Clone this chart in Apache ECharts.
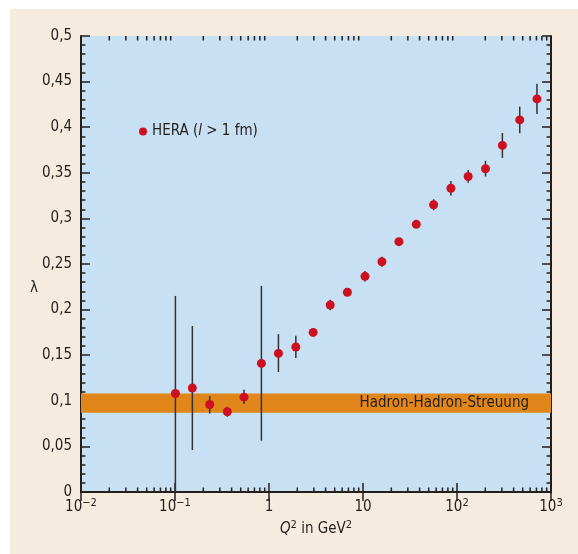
<!DOCTYPE html>
<html>
<head>
<meta charset="utf-8">
<script src="https://cdn.jsdelivr.net/npm/echarts@6/dist/echarts.min.js"></script>
<style>
html,body{margin:0;padding:0;background:#fff;}
#c{width:578px;height:554px;background:#f5ecdf;box-shadow:inset 10px 9px 0 0 #fff;}
</style>
</head>
<body>
<div id="c"></div>
<script>
// ---- data ----
const q2 = [0.101, 0.153, 0.234, 0.36, 0.542, 0.83, 1.26, 1.93, 2.95, 4.48, 6.82, 10.5, 15.9, 24.1, 36.9, 56.4, 86.1, 131.5, 201, 304, 465, 709];
const lambda = [0.108, 0.114, 0.096, 0.088, 0.104, 0.141, 0.152, 0.159, 0.175, 0.205, 0.219, 0.2365, 0.2525, 0.2745, 0.2935, 0.315, 0.333, 0.346, 0.3545, 0.380, 0.408, 0.431];
const errLow = [0.0, 0.046, 0.086, 0.0826, 0.0965, 0.0563, 0.1316, 0.147, 0.171, 0.1992, 0.215, 0.2308, 0.247, 0.2705, 0.2895, 0.309, 0.325, 0.339, 0.3459, 0.3663, 0.3934, 0.4144];
const errHigh = [0.215, 0.182, 0.105, 0.0935, 0.112, 0.226, 0.173, 0.1714, 0.179, 0.2108, 0.223, 0.2422, 0.258, 0.2785, 0.2975, 0.321, 0.341, 0.353, 0.3631, 0.3937, 0.4226, 0.4476];
const bandLow = 0.087, bandHigh = 0.108;
const bandLabel = 'Hadron-Hadron-Streuung';
const xTickExps = [-2, -1, 0, 1, 2, 3];
const yTickLabels = ['0', '0,05', '0,1', '0,15', '0,2', '0,25', '0,3', '0,35', '0,4', '0,45', '0,5'];

const FONT = '"DejaVu Sans Condensed", "Liberation Sans Narrow", "Liberation Sans", sans-serif';
const INK = '#231f1c';
const FS = 15;

// minor log tick positions (2..9 per decade)
const minorLog = [];
for (let i = 0; i < xTickExps.length - 1; i++) {
  for (let k = 2; k <= 9; k++) minorLog.push([k * Math.pow(10, xTickExps[i]), 0]);
}

function expLabel(v) {
  const e = Math.round(Math.log10(v));
  if (e === 0) return '{b|1}';
  if (e === 1) return '{b|10}';
  return '{b|10}{s|' + (e < 0 ? '\u2212' + (-e) : e) + '}';
}

const tickStyle = {color: INK, width: 1.5};
const axisLineStyle = {color: INK, width: 2};

const chart = echarts.init(document.getElementById('c'), null, {renderer: 'canvas'});
chart.setOption({
  backgroundColor: 'transparent',
  animation: false,
  grid: {left: 81, right: 27, top: 36, bottom: 62, show: true, backgroundColor: '#c8e0f3', borderWidth: 0},
  legend: {
    data: [{name: 'HERA', icon: 'circle'}],
    left: 134, top: 119, itemWidth: 8, itemHeight: 8,
    formatter: () => '{n|HERA (}{i|l}{n| > 1 fm)}',
    textStyle: {
      rich: {
        n: {fontFamily: FONT, fontSize: FS, color: INK},
        i: {fontFamily: FONT, fontSize: FS, color: INK, fontStyle: 'italic'}
      }
    }
  },
  graphic: [{
    type: 'text', left: 30, top: 281,
    style: {text: '\u03bb', fontFamily: FONT, fontSize: FS, fill: INK}
  }],
  xAxis: [{
    type: 'log', logBase: 10, min: 0.01, max: 1000, position: 'bottom',
    axisLine: {show: true, lineStyle: axisLineStyle},
    axisTick: {show: true, inside: true, length: 9, lineStyle: tickStyle},
    splitLine: {show: false},
    axisLabel: {
      margin: 6, formatter: expLabel,
      rich: {
        b: {fontFamily: FONT, fontSize: FS, color: INK, lineHeight: 19},
        s: {fontFamily: FONT, fontSize: 11, color: INK, lineHeight: 11, verticalAlign: 'top'}
      }
    },
    name: '{q|Q}{s|2}{n| in GeV}{s|2}',
    nameLocation: 'middle', nameGap: 28,
    nameTextStyle: {
      rich: {
        q: {fontFamily: FONT, fontSize: FS, color: INK, fontStyle: 'italic', lineHeight: 19},
        n: {fontFamily: FONT, fontSize: FS, color: INK, lineHeight: 19},
        s: {fontFamily: FONT, fontSize: 11, color: INK, lineHeight: 11, verticalAlign: 'top'}
      }
    }
  }, {
    type: 'log', logBase: 10, min: 0.01, max: 1000, position: 'top',
    axisLine: {show: true, lineStyle: axisLineStyle},
    axisTick: {show: true, inside: true, length: 9, lineStyle: tickStyle},
    axisLabel: {show: false}, splitLine: {show: false}
  }],
  yAxis: [{
    type: 'value', min: 0, max: 0.5, interval: 0.05, position: 'left',
    axisLine: {show: true, lineStyle: axisLineStyle},
    axisTick: {show: true, inside: true, length: 9, lineStyle: tickStyle},
    minorTick: {show: true, splitNumber: 5, length: 4.5, lineStyle: tickStyle},
    splitLine: {show: false},
    axisLabel: {
      margin: 9, fontFamily: FONT, fontSize: FS, color: INK,
      formatter: (v) => yTickLabels[Math.round(v / 0.05)]
    }
  }, {
    type: 'value', min: 0, max: 0.5, interval: 0.05, position: 'right',
    axisLine: {show: true, lineStyle: axisLineStyle},
    axisTick: {show: true, inside: true, length: 9, lineStyle: tickStyle},
    minorTick: {show: true, splitNumber: 5, length: 4.5, lineStyle: tickStyle},
    splitLine: {show: false}, axisLabel: {show: false}
  }],
  series: [{
    name: 'band', type: 'scatter', data: [], z: 1, silent: true,
    markArea: {
      silent: true,
      itemStyle: {color: '#e0861a', opacity: 1},
      label: {show: true, position: 'insideRight', distance: 22, fontFamily: FONT, fontSize: FS, color: INK},
      data: [[{yAxis: bandLow, name: bandLabel}, {yAxis: bandHigh}]]
    }
  }, {
    name: 'minorTicks', type: 'custom', z: 5, silent: true,
    data: minorLog,
    encode: {x: 0, y: 1},
    renderItem: function (params, api) {
      const b = api.coord([api.value(0), 0]);
      const t = api.coord([api.value(0), 0.5]);
      return {type: 'group', children: [
        {type: 'line', shape: {x1: b[0], y1: b[1], x2: b[0], y2: b[1] - 4.5}, style: {stroke: INK, lineWidth: 1.5}},
        {type: 'line', shape: {x1: t[0], y1: t[1], x2: t[0], y2: t[1] + 4.5}, style: {stroke: INK, lineWidth: 1.5}}
      ]};
    }
  }, {
    name: 'errors', type: 'custom', z: 3, silent: true,
    data: q2.map((x, i) => [x, lambda[i], errLow[i], errHigh[i]]),
    encode: {x: 0, y: 1},
    renderItem: function (params, api) {
      const lo = api.coord([api.value(0), api.value(2)]);
      const hi = api.coord([api.value(0), api.value(3)]);
      return {type: 'line', shape: {x1: lo[0], y1: lo[1], x2: hi[0], y2: hi[1]}, style: {stroke: '#333333', lineWidth: 1.5}};
    }
  }, {
    name: 'HERA', type: 'scatter', z: 4,
    data: q2.map((x, i) => [x, lambda[i]]),
    symbol: 'circle', symbolSize: 9,
    itemStyle: {color: '#cc1020', opacity: 1}
  }]
});
</script>
</body>
</html>
